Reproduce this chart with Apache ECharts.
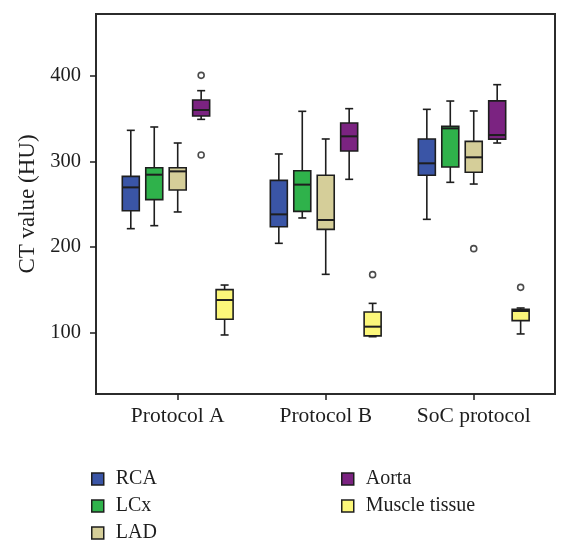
<!DOCTYPE html>
<html>
<head>
<meta charset="utf-8">
<script src="https://cdn.jsdelivr.net/npm/echarts@6/dist/echarts.min.js"></script>
<style>html,body{margin:0;padding:0;background:#fff}#c{width:570px;height:552px}</style>
</head>
<body>
<div id="c"></div>
<script>
const categories = ['Protocol A', 'Protocol B', 'SoC protocol'];
const yTicks = [100, 200, 300, 400];
const seriesNames = ['RCA', 'LCx', 'LAD', 'Aorta', 'Muscle tissue'];
// each entry: [min, Q1, median, Q3, max] for Protocol A, Protocol B, SoC protocol
const rca = [[221.4, 242.4, 269.6, 282.5, 336.2], [204.3, 223.7, 238.1, 277.8, 308.6], [232.3, 283.7, 297.7, 326.1, 360.7]];
const lcx = [[224.9, 255.3, 284.4, 292.6, 340.1], [233.9, 241.6, 272.8, 289.1, 358.4], [275.5, 293.4, 338.5, 340.9, 370.4]];
const lad = [[240.9, 266.5, 288.3, 292.6, 321.4], [168.1, 220.6, 231.5, 283.7, 326.1], [273.5, 287.2, 304.7, 323.3, 358.8]];
const aorta = [[349.0, 352.9, 359.9, 371.6, 382.5], [279.0, 312.1, 329.2, 344.7, 361.5], [321.4, 325.9, 330.7, 370.6, 389.5]];
const muscle = [[97.3, 115.6, 138.1, 150.2, 155.6], [95.3, 96.3, 107.0, 124.1, 134.2], [98.5, 114.0, 125.3, 127.3, 128.8]];
// outliers: [category index, value]
const rcaOut = [];
const lcxOut = [];
const ladOut = [[2, 198.1]];
const aortaOut = [[0, 400.4], [0, 307.4]];
const muscleOut = [[1, 167.7], [2, 152.9]];

const stats = [rca, lcx, lad, aorta, muscle];
const outliers = [rcaOut, lcxOut, ladOut, aortaOut, muscleOut];
const colors = ['#3a55a6', '#2fb24b', '#d5ce99', '#7b2381', '#fcf77a'];
const INK = '#1e1e1e';
const FONT = '"Liberation Serif", "DejaVu Serif", serif';
const BOX_W = 17, CAP_W = 8, BOX_STEP = 23.45, LW = 1.6;

function makeRender(k) {
  return function (params, api) {
    const cat = api.value(0);
    const pt = function (v) { return api.coord([cat, v]); };
    const x = pt(api.value(1))[0] + (k - 2) * BOX_STEP;
    const yMin = pt(api.value(1))[1];
    const yQ1 = pt(api.value(2))[1];
    const yMed = pt(api.value(3))[1];
    const yQ3 = pt(api.value(4))[1];
    const yMax = pt(api.value(5))[1];
    const ls = { stroke: INK, lineWidth: LW };
    return {
      type: 'group',
      children: [
        { type: 'line', shape: { x1: x, y1: yMax, x2: x, y2: yQ3 }, style: ls },
        { type: 'line', shape: { x1: x, y1: yQ1, x2: x, y2: yMin }, style: ls },
        { type: 'line', shape: { x1: x - CAP_W / 2, y1: yMax, x2: x + CAP_W / 2, y2: yMax }, style: ls },
        { type: 'line', shape: { x1: x - CAP_W / 2, y1: yMin, x2: x + CAP_W / 2, y2: yMin }, style: ls },
        { type: 'rect', shape: { x: x - BOX_W / 2, y: yQ3, width: BOX_W, height: yQ1 - yQ3 },
          style: { fill: colors[k], stroke: INK, lineWidth: LW } },
        { type: 'line', shape: { x1: x - BOX_W / 2, y1: yMed, x2: x + BOX_W / 2, y2: yMed }, style: { stroke: INK, lineWidth: 2 } }
      ]
    };
  };
}

const series = [];
seriesNames.forEach(function (name, k) {
  series.push({
    name: name,
    type: 'custom',
    renderItem: makeRender(k),
    itemStyle: { color: colors[k] },
    encode: { x: 0, y: [1, 2, 3, 4, 5] },
    data: stats[k].map(function (s, i) { return [i].concat(s); }),
    z: 2
  });
  if (outliers[k].length) {
    series.push({
      name: name,
      type: 'scatter',
      data: outliers[k],
      symbol: 'circle',
      symbolSize: 6,
      symbolOffset: [(k - 2) * BOX_STEP, 0],
      itemStyle: { color: '#ffffff', borderColor: INK, borderWidth: 1.6 },
      z: 3
    });
  }
});

function legendItem(name) {
  const k = seriesNames.indexOf(name);
  return { name: name, icon: 'rect', itemStyle: { color: colors[k], borderColor: INK, borderWidth: 1.5 } };
}
const legendCommon = {
  orient: 'vertical', itemWidth: 12, itemHeight: 12, itemGap: 7,
  selectedMode: false,
  textStyle: { fontFamily: FONT, fontSize: 20, color: INK, padding: [0, 0, 0, 7] }
};

const chart = echarts.init(document.getElementById('c'), null, { renderer: 'canvas' });
chart.setOption({
  animation: false,
  backgroundColor: '#ffffff',
  grid: { left: 96, top: 14, width: 459, height: 380, show: true, borderColor: '#2b2b2b', borderWidth: 2, backgroundColor: 'transparent' },
  xAxis: {
    type: 'value', min: -0.552, max: 2.549,
    axisLine: { show: false, onZero: false },
    splitLine: { show: false },
    axisTick: { show: true, length: 6, customValues: [0, 1, 2], lineStyle: { color: INK, width: 1.5 } },
    axisLabel: { customValues: [0, 1, 2], margin: 11, fontFamily: FONT, fontSize: 21.5, color: INK,
      formatter: function (v) { return categories[Math.round(v)]; } }
  },
  yAxis: {
    type: 'value', min: 28.4, max: 472,
    name: 'CT value (HU)', nameLocation: 'middle', nameGap: 55,
    nameTextStyle: { fontFamily: FONT, fontSize: 23, color: INK },
    axisLine: { show: false, onZero: false },
    splitLine: { show: false },
    axisTick: { show: true, length: 6, customValues: yTicks, lineStyle: { color: INK, width: 1.5 } },
    axisLabel: { customValues: yTicks, margin: 15, fontFamily: FONT, fontSize: 20.5, color: INK }
  },
  legend: [
    Object.assign({ left: 86, top: 464, data: ['RCA', 'LCx', 'LAD'].map(legendItem) }, legendCommon),
    Object.assign({ left: 336, top: 464, data: ['Aorta', 'Muscle tissue'].map(legendItem) }, legendCommon)
  ],
  series: series
});
</script>
</body>
</html>
